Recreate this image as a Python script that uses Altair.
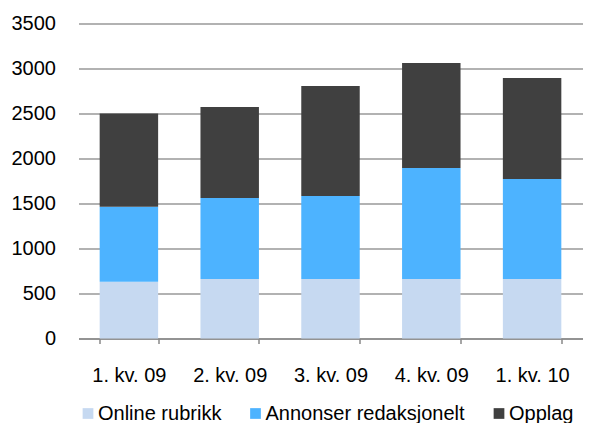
import altair as alt
import pandas as pd

quarters = ["1. kv. 09", "2. kv. 09", "3. kv. 09", "4. kv. 09", "1. kv. 10"]
series = ["Online rubrikk", "Annonser redaksjonelt", "Opplag"]
online = [631, 661, 661, 661, 661]
annonser = [833, 900, 922, 1233, 1111]
opplag = [1036, 1011, 1223, 1167, 1122]
colors = ["#C6D9F1", "#4DB3FF", "#404040"]
y_ticks = [0, 500, 1000, 1500, 2000, 2500, 3000, 3500]

rows = []
for i, q in enumerate(quarters):
    for j, (s, vals) in enumerate(zip(series, [online, annonser, opplag])):
        rows.append({"kvartal": q, "serie": s, "verdi": vals[i], "rekke": j})
df = pd.DataFrame(rows)

FONT = "Liberation Sans"

chart = alt.Chart(df).mark_bar().encode(
    x=alt.X(
        "kvartal:N", sort=quarters, title=None,
        scale=alt.Scale(paddingInner=0.42, paddingOuter=0.21),
        axis=alt.Axis(labelAngle=0, tickBand="extent", domainColor="#888888",
                      domainWidth=1.5, tickColor="#888888", tickWidth=1.5, tickSize=5,
                      labelFontSize=20, labelFont=FONT, labelColor="#000000",
                      labelPadding=22, grid=False),
    ),
    y=alt.Y(
        "verdi:Q", stack="zero", title=None,
        scale=alt.Scale(domain=[0, 3500], nice=False),
        axis=alt.Axis(values=y_ticks, format="d", domain=False, ticks=False, tickSize=0,
                      gridColor="#999999", gridWidth=1.3, labelPadding=23,
                      labelFontSize=20, labelFont=FONT, labelColor="#000000"),
    ),
    color=alt.Color(
        "serie:N", sort=series,
        scale=alt.Scale(domain=series, range=colors),
        legend=alt.Legend(orient="none", legendX=-0.5, legendY=380,
                          direction="horizontal", title=None, padding=0,
                          symbolType="square", symbolSize=115, symbolStrokeWidth=0,
                          labelFontSize=20, labelFont=FONT, labelColor="#000000",
                          columnPadding=23.5, labelOffset=0, labelLimit=0),
    ),
    order=alt.Order("rekke:Q", sort="ascending"),
).properties(
    width=504, height=315,
    autosize=alt.AutoSizeParams(type="none"),
    padding={"left": 70.5, "top": 15.5, "right": 0, "bottom": 84.5},
).configure_view(stroke=None)

chart.save("out.html", embed_options={"renderer": "svg", "actions": False})
